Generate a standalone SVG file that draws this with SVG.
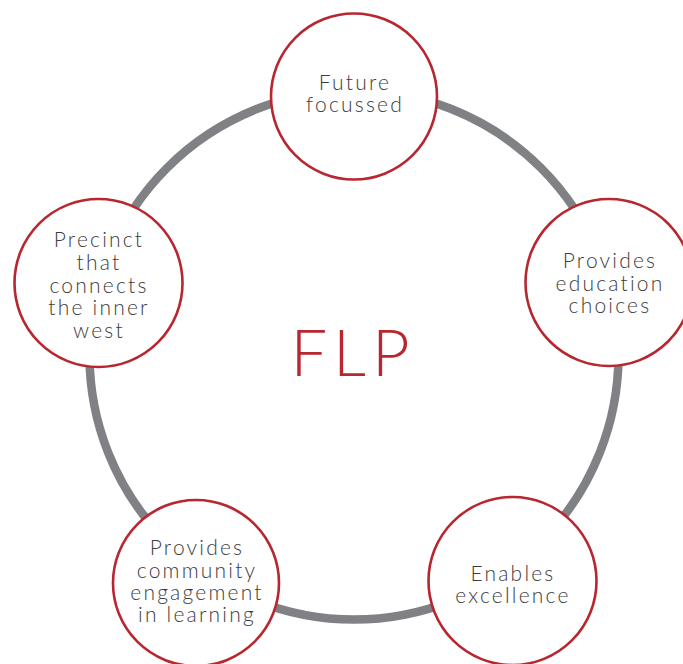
<svg xmlns="http://www.w3.org/2000/svg" width="683" height="664" viewBox="0 0 683 664">
<style>
.node{fill:#ffffff;stroke:#b8262f;stroke-width:2.6}
.lbl{font-family:Lato,"Liberation Sans",sans-serif;font-weight:300;font-size:21px;fill:#3c3c3c;text-anchor:middle;letter-spacing:2.2px}
.ring{fill:none;stroke:#808184;stroke-width:8.5}
.title{font-family:Lato,"Liberation Sans",sans-serif;font-weight:300;font-size:65px;fill:#b8262f;text-anchor:middle;letter-spacing:6px}
</style>
<rect width="683" height="664" fill="#ffffff"/>
<g id="connectors">
<circle class="ring" cx="354" cy="355" r="264.5"/>
</g>
<text class="title" x="353" y="376">FLP</text>
<g id="n-future">
<circle class="node" cx="354" cy="96.5" r="83"/>
<text class="lbl" x="355" y="90">Future</text>
<text class="lbl" x="355" y="112">focussed</text>
</g>
<g id="n-choices">
<circle class="node" cx="609" cy="282.5" r="83.5"/>
<text class="lbl" x="610" y="268">Provides</text>
<text class="lbl" x="610" y="291">education</text>
<text class="lbl" x="610" y="313">choices</text>
</g>
<g id="n-excellence">
<circle class="node" cx="512.5" cy="581" r="84"/>
<text class="lbl" x="513" y="581">Enables</text>
<text class="lbl" x="513" y="603">excellence</text>
</g>
<g id="n-community">
<circle class="node" cx="196" cy="583" r="83"/>
<text class="lbl" x="197" y="555">Provides</text>
<text class="lbl" x="197" y="578">community</text>
<text class="lbl" x="197" y="600">engagement</text>
<text class="lbl" x="197" y="622">in learning</text>
</g>
<g id="n-precinct">
<circle class="node" cx="98.5" cy="283" r="84"/>
<text class="lbl" x="99" y="247">Precinct</text>
<text class="lbl" x="99" y="270">that</text>
<text class="lbl" x="99" y="293">connects</text>
<text class="lbl" x="99" y="315">the inner</text>
<text class="lbl" x="99" y="338">west</text>
</g>
</svg>
